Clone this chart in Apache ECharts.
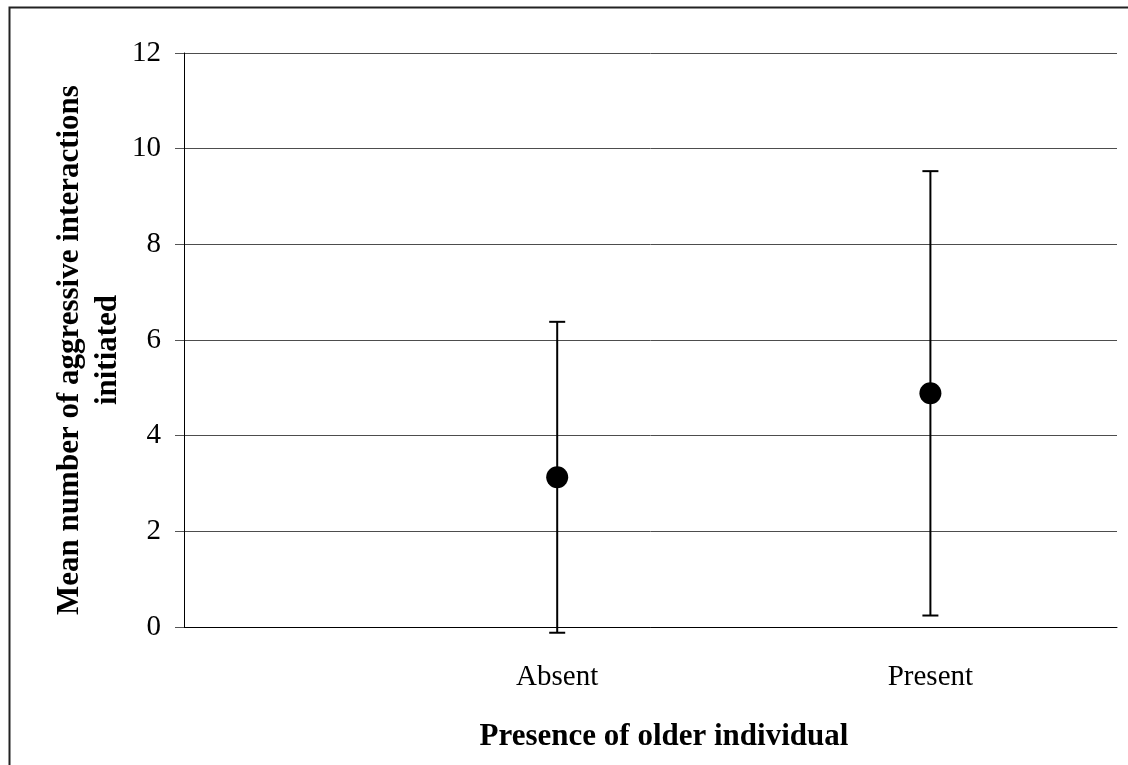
<!DOCTYPE html>
<html>
<head>
<meta charset="utf-8">
<script src="https://cdn.jsdelivr.net/npm/echarts@6/dist/echarts.min.js"></script>
<style>
html,body{margin:0;padding:0;background:#fff;}
#chart{width:1128px;height:765px;}
</style>
</head>
<body>
<div id="chart"></div>
<script>
// ---- data ----
const categories = ['Absent', 'Present'];
const xPositions = [1, 2];
const means = [3.13, 4.885];
const errors = [3.25, 4.645];
const yTicks = [0, 2, 4, 6, 8, 10, 12];
const xTitle = 'Presence of older individual';
const yTitle = 'Mean number of aggressive interactions\ninitiated';

const FONT = '"Liberation Serif", "Times New Roman", serif';

const pointData = xPositions.map((x, i) => [x, means[i]]);
const errData = xPositions.map((x, i) => [x, means[i] - errors[i], means[i] + errors[i]]);

const chart = echarts.init(document.getElementById('chart'), null, {renderer: 'canvas'});
chart.setOption({
  backgroundColor: '#fff',
  animation: false,
  grid: {left: 184, right: 11, top: 53, bottom: 138, containLabel: false},
  xAxis: {
    type: 'value', min: 0, max: 2.5, interval: 0.5,
    axisLine: {show: true, onZero: false, lineStyle: {color: '#000', width: 1}},
    axisTick: {show: false},
    splitLine: {show: false},
    axisLabel: {
      margin: 36,
      fontFamily: FONT, fontSize: 29, color: '#000',
      formatter: v => { const i = xPositions.indexOf(v); return i >= 0 ? categories[i] : ''; }
    }
  },
  yAxis: {
    type: 'value', min: yTicks[0], max: yTicks[yTicks.length - 1], interval: yTicks[1] - yTicks[0],
    axisLine: {show: true, lineStyle: {color: '#000', width: 1}},
    axisTick: {show: true, length: 9, lineStyle: {color: '#555', width: 1}},
    splitLine: {show: true, lineStyle: {color: '#4d4d4d', width: 1}},
    axisLabel: {margin: 23, fontFamily: FONT, fontSize: 29, color: '#000'}
  },
  graphic: [
    {type: 'rect', left: 7, top: 5, shape: {x: 0, y: 0, width: 1140, height: 780},
     style: {fill: 'none', stroke: '#222', lineWidth: 2}, silent: true, z: 100},
    {type: 'text', x: 664, y: 737,
     style: {text: xTitle, font: 'bold 31px ' + FONT, fill: '#000', textAlign: 'center', textVerticalAlign: 'middle'}},
    {type: 'text', x: 89, y: 350, rotation: Math.PI / 2,
     style: {text: yTitle, font: 'bold 31px ' + FONT, fill: '#000', textAlign: 'center', textVerticalAlign: 'middle', lineHeight: 38}}
  ],
  series: [
    {
      type: 'custom',
      data: errData,
      z: 2,
      renderItem: function (params, api) {
        const x = api.value(0);
        const lo = api.coord([x, api.value(1)]);
        const hi = api.coord([x, api.value(2)]);
        const cw = 8;
        const st = {stroke: '#000', lineWidth: 2};
        return {type: 'group', children: [
          {type: 'line', shape: {x1: lo[0], y1: lo[1], x2: hi[0], y2: hi[1]}, style: st},
          {type: 'line', shape: {x1: hi[0] - cw, y1: hi[1], x2: hi[0] + cw, y2: hi[1]}, style: st},
          {type: 'line', shape: {x1: lo[0] - cw, y1: lo[1], x2: lo[0] + cw, y2: lo[1]}, style: st}
        ]};
      }
    },
    {
      type: 'scatter',
      data: pointData,
      symbol: 'circle',
      symbolSize: 22,
      itemStyle: {color: '#000', opacity: 1},
      z: 3
    }
  ]
});
</script>
</body>
</html>
